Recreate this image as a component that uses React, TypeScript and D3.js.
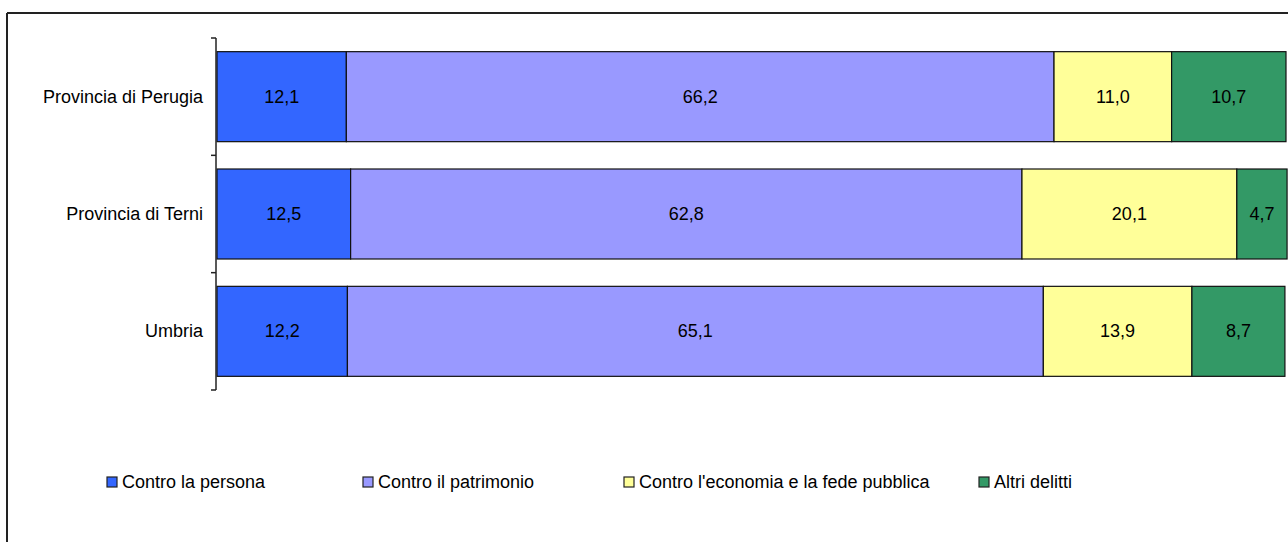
import React from "react";
import * as d3 from "d3";

const categories = ["Provincia di Perugia", "Provincia di Terni", "Umbria"];
const seriesNames = [
  "Contro la persona",
  "Contro il patrimonio",
  "Contro l'economia e la fede pubblica",
  "Altri delitti",
];
const personaValues = [12.1, 12.5, 12.2];
const patrimonioValues = [66.2, 62.8, 65.1];
const economiaValues = [11.0, 20.1, 13.9];
const altriValues = [10.7, 4.7, 8.7];
const seriesColors = ["#3366FF", "#9999FF", "#FFFF99", "#339966"];

const W = 1288;
const H = 542;
const FONT = "Liberation Sans, Arial, Helvetica, sans-serif";

export default function App() {
  const seriesValues = [personaValues, patrimonioValues, economiaValues, altriValues];
  const rows = categories.map((c, i) => {
    const r: any = { cat: c };
    seriesNames.forEach((s, j) => (r[s] = seriesValues[j][i]));
    return r;
  });
  const stacked = d3.stack().keys(seriesNames)(rows as any);

  const x = d3.scaleLinear().domain([0, 100]).range([217, 1286]);
  const pad = 0.233;
  const y = d3
    .scaleBand<string>()
    .domain(categories)
    .range([38, 390])
    .paddingInner(pad)
    .paddingOuter(pad / 2);
  const step = y.step();
  const tickYs = d3.range(categories.length + 1).map((i) => 38 + i * step);

  const legendX = [107, 363, 624, 979];

  return (
    <svg
      width={W}
      height={H}
      style={{ position: "absolute", left: 0, top: 0, background: "#fff" }}
      fontFamily={FONT}
    >
      {/* frame */}
      <line x1={7} y1={13} x2={W + 5} y2={13} stroke="#222" strokeWidth={2} />
      <line x1={7} y1={13} x2={7} y2={H + 5} stroke="#222" strokeWidth={2} />

      {/* bars */}
      {stacked.map((s, j) => (
        <g key={seriesNames[j]}>
          {s.map((d, i) => {
            const x0 = x(d[0]);
            const x1 = x(d[1]);
            const yy = y(categories[i])!;
            const v = seriesValues[j][i];
            return (
              <g key={i}>
                <rect
                  x={x0}
                  y={yy}
                  width={x1 - x0}
                  height={y.bandwidth()}
                  fill={seriesColors[j]}
                  stroke="#111"
                  strokeWidth={1.2}
                />
                <text
                  x={(x0 + x1) / 2}
                  y={yy + y.bandwidth() / 2}
                  textAnchor="middle"
                  dominantBaseline="central"
                  fontSize={18}
                  fill="#000"
                >
                  {v.toFixed(1).replace(".", ",")}
                </text>
              </g>
            );
          })}
        </g>
      ))}

      {/* axis */}
      <line x1={216} y1={tickYs[0]} x2={216} y2={tickYs[tickYs.length - 1]} stroke="#222" strokeWidth={1.5} />
      {tickYs.map((t, i) => (
        <line key={i} x1={211} y1={t} x2={216} y2={t} stroke="#222" strokeWidth={1.5} />
      ))}
      {categories.map((c) => (
        <text
          key={c}
          x={203}
          y={y(c)! + y.bandwidth() / 2}
          textAnchor="end"
          dominantBaseline="central"
          fontSize={18}
          fill="#000"
        >
          {c}
        </text>
      ))}

      {/* legend */}
      {seriesNames.map((s, j) => (
        <g key={s}>
          <rect x={legendX[j]} y={477} width={10} height={10} fill={seriesColors[j]} stroke="#222" strokeWidth={1.2} />
          <text x={legendX[j] + 15} y={482} dominantBaseline="central" fontSize={18} fill="#000">
            {s}
          </text>
        </g>
      ))}
    </svg>
  );
}
